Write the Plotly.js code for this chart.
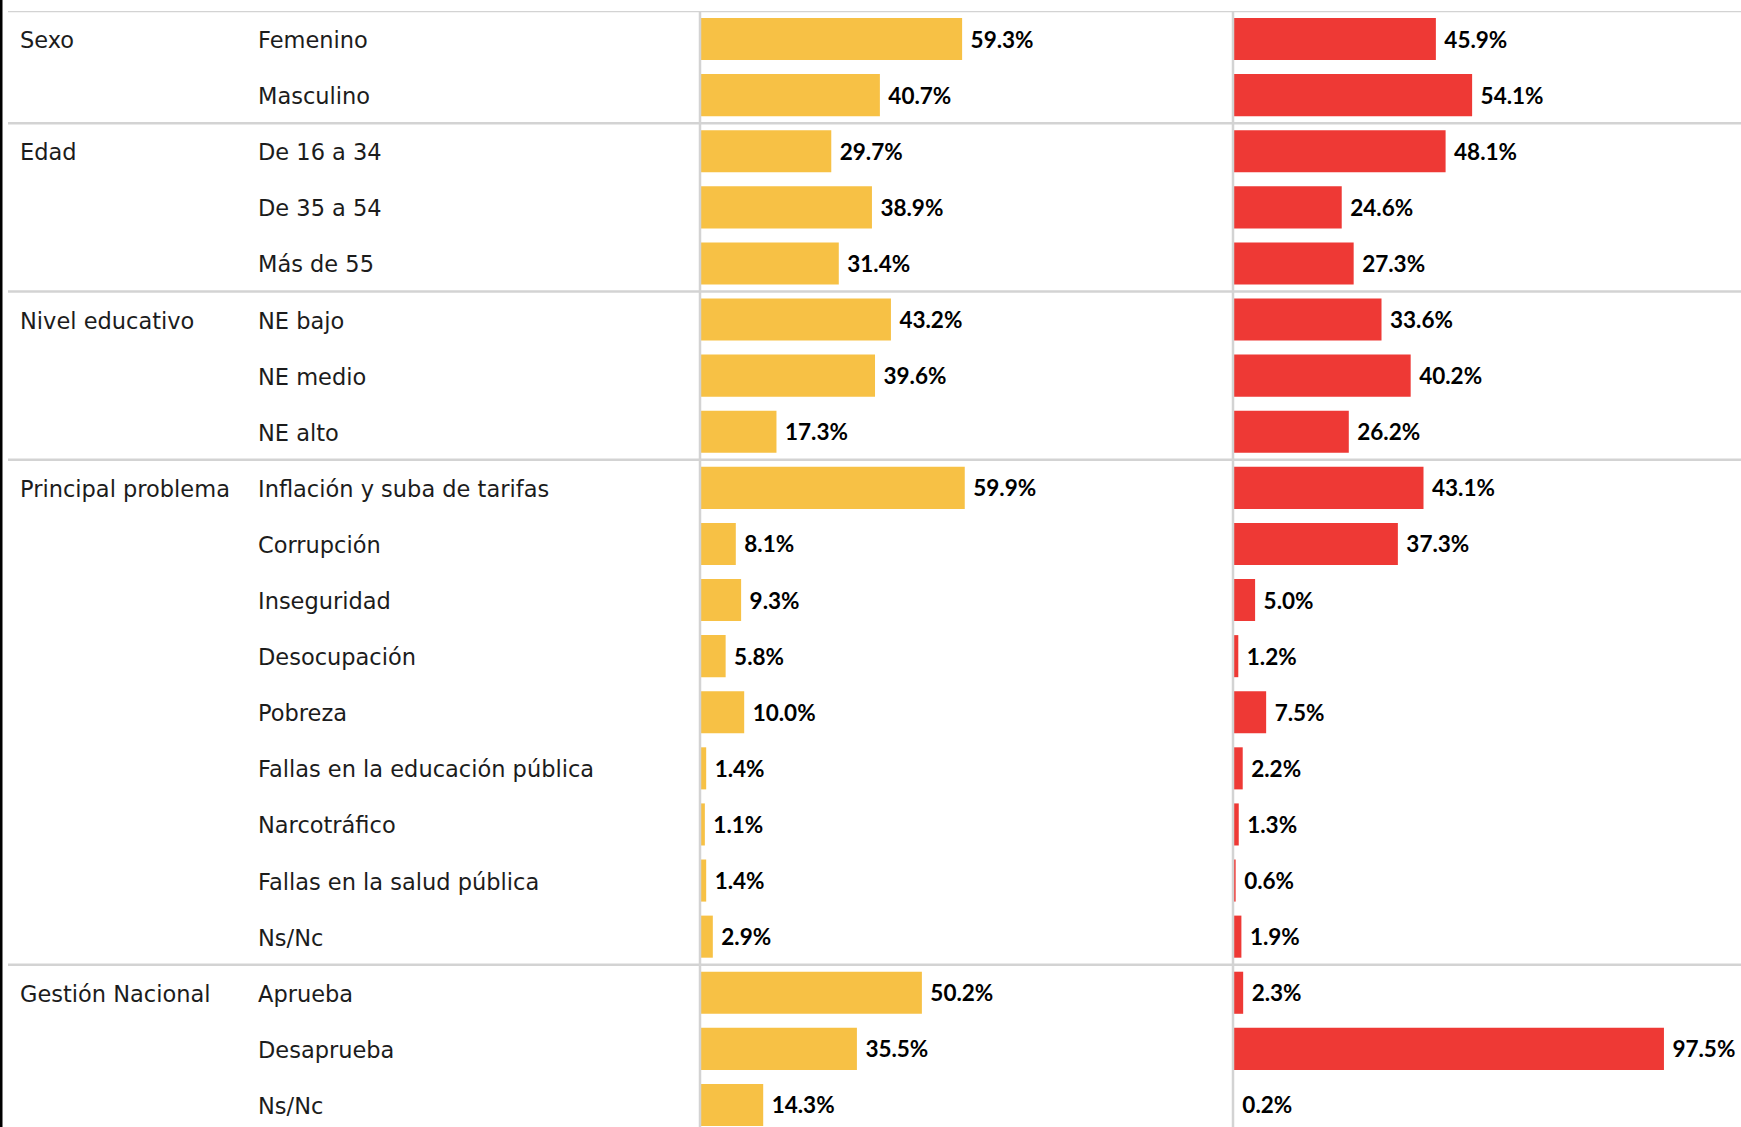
<!DOCTYPE html>
<html>
<head>
<meta charset="utf-8">
<script src="https://cdn.plot.ly/plotly-3.0.1.min.js"></script>
<style>
  html, body { margin: 0; padding: 0; background: #ffffff; }
  #chart { width: 1741px; height: 1127px; }
</style>
</head>
<body>
<div id="chart"></div>
<script>
// ---- Data ----
const groupNames = ["Sexo", "Edad", "Nivel educativo", "Principal problema", "Gestión Nacional"];
const groupCounts = [2, 3, 3, 9, 3];
const categories = [
  "Femenino", "Masculino",
  "De 16 a 34", "De 35 a 54", "Más de 55",
  "NE bajo", "NE medio", "NE alto",
  "Inflación y suba de tarifas", "Corrupción", "Inseguridad", "Desocupación", "Pobreza",
  "Fallas en la educación pública", "Narcotráfico", "Fallas en la salud pública", "Ns/Nc",
  "Aprueba", "Desaprueba", "Ns/Nc"
];
const valuesYellow = [59.3, 40.7, 29.7, 38.9, 31.4, 43.2, 39.6, 17.3, 59.9, 8.1, 9.3, 5.8, 10.0, 1.4, 1.1, 1.4, 2.9, 50.2, 35.5, 14.3];
const valuesRed    = [45.9, 54.1, 48.1, 24.6, 27.3, 33.6, 40.2, 26.2, 43.1, 37.3, 5.0, 1.2, 7.5, 2.2, 1.3, 0.6, 1.9, 2.3, 97.5, 0.2];

// ---- Layout helpers ----
const W = 1741, H = 1127;
const px = v => v / W;
const rowIdx = categories.map((_, i) => i);
const pxPerPct = 4.42;
const panel1L = 700, panel1R = 1233, panel2L = 1233;
const topMargin = 11;
const rowPitch = 56.1;
const plotH = H - topMargin;
const yBottom = -0.5 + plotH / rowPitch;

const labelFont = { family: "'DejaVu Sans', 'Open Sans', sans-serif", size: 22.5, color: "#1c1c1c" };
const valueFont = { family: "Lato, 'Open Sans', sans-serif", size: 22.5, color: "#000000", weight: 700 };

const traces = [
  {
    type: "bar", orientation: "h",
    x: valuesYellow, y: rowIdx,
    xaxis: "x", yaxis: "y",
    width: 0.75,
    marker: { color: "#F7C145" },
    texttemplate: "\u00a0%{x:.1f}%",
    textposition: "outside",
    textfont: valueFont,
    cliponaxis: false,
    constraintext: "none",
    hoverinfo: "skip"
  },
  {
    type: "bar", orientation: "h",
    x: valuesRed, y: rowIdx,
    xaxis: "x2", yaxis: "y",
    width: 0.75,
    marker: { color: "#EE3935" },
    texttemplate: "\u00a0%{x:.1f}%",
    textposition: "outside",
    textfont: valueFont,
    cliponaxis: false,
    constraintext: "none",
    hoverinfo: "skip"
  }
];

// separators
const shapes = [];
const bounds = [-0.5];
let acc = 0;
groupCounts.forEach((c, i) => { acc += c; if (i < groupCounts.length - 1) bounds.push(acc - 0.5); });
bounds.forEach(b => shapes.push({
  type: "line", xref: "paper", yref: "y",
  x0: px(8), x1: 1, y0: b, y1: b,
  line: { color: "#d3d3d3", width: 2.5 }, layer: "above"
}));
[panel1L, panel2L].forEach(xv => shapes.push({
  type: "line", xref: "paper", yref: "y",
  x0: px(xv), x1: px(xv), y0: -0.5, y1: yBottom,
  line: { color: "#d3d3d3", width: 2.5 }, layer: "above"
}));
// left black border
shapes.push({
  type: "rect", xref: "paper", yref: "paper",
  x0: 0, x1: px(2.5), y0: 0, y1: 1.02,
  fillcolor: "#000000", line: { width: 0 }, layer: "above"
});

// annotations: group labels + category labels
const annotations = [];
let start = 0;
groupNames.forEach((g, i) => {
  annotations.push({
    xref: "paper", yref: "y", x: px(18), y: start, yshift: -1,
    text: g, showarrow: false, xanchor: "left", yanchor: "middle",
    font: labelFont
  });
  start += groupCounts[i];
});
categories.forEach((c, i) => {
  annotations.push({
    xref: "paper", yref: "y", x: px(256), y: i, yshift: -1,
    text: c, showarrow: false, xanchor: "left", yanchor: "middle",
    font: labelFont
  });
});

const layout = {
  width: W, height: H,
  margin: { l: 0, r: 0, t: topMargin, b: 0, pad: 0 },
  paper_bgcolor: "#ffffff", plot_bgcolor: "rgba(0,0,0,0)",
  showlegend: false,
  xaxis: {
    domain: [px(panel1L), px(panel1R)],
    range: [0, (panel1R - panel1L) / pxPerPct],
    showgrid: false, zeroline: false, showticklabels: false, showline: false, fixedrange: true
  },
  xaxis2: {
    domain: [px(panel2L), 1],
    range: [0, (W - panel2L) / pxPerPct],
    showgrid: false, zeroline: false, showticklabels: false, showline: false, fixedrange: true
  },
  yaxis: {
    range: [yBottom, -0.5],
    showgrid: false, zeroline: false, showticklabels: false, showline: false, fixedrange: true
  },
  shapes: shapes,
  annotations: annotations
};

Plotly.newPlot("chart", traces, layout, { displayModeBar: false, staticPlot: true });
</script>
</body>
</html>
